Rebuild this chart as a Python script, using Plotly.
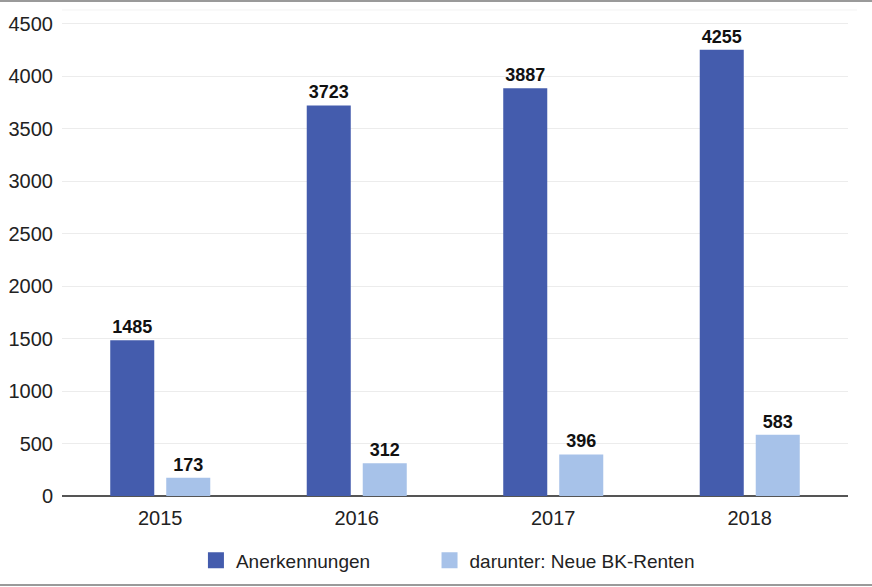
import plotly.graph_objects as go

years = ["2015", "2016", "2017", "2018"]
anerkennungen = [1485, 3723, 3887, 4255]
bk_renten = [173, 312, 396, 583]
series_names = ["Anerkennungen", "darunter: Neue BK-Renten"]
colors = ["#445CAD", "#A7C2E9"]
y_ticks = [0, 500, 1000, 1500, 2000, 2500, 3000, 3500, 4000, 4500]

FONT = "Liberation Sans"

fig = go.Figure()
for name, vals, col in zip(series_names, [anerkennungen, bk_renten], colors):
    fig.add_trace(go.Bar(
        x=years, y=vals, name=name, showlegend=False,
        marker=dict(color=col, line=dict(width=0)),
        text=[str(v) for v in vals], textposition="outside",
        textfont=dict(family=FONT, size=18, color="#111111", weight="bold"),
        cliponaxis=False,
    ))
# legend entries with larger square swatches, each in its own legend
for name, col, lg in zip(series_names, colors, ["legend", "legend2"]):
    fig.add_trace(go.Scatter(
        x=[None], y=[None], mode="markers", name=name, legend=lg,
        marker=dict(symbol="square", size=17, color=col),
    ))

legend_common = dict(orientation="h", xanchor="left", y=-0.1327, yanchor="middle",
                     font=dict(family=FONT, size=19, color="#222222"),
                     itemsizing="trace", bgcolor="rgba(0,0,0,0)")

fig.update_layout(
    width=872, height=587,
    margin=dict(l=62, r=24, t=10, b=91, autoexpand=False),
    paper_bgcolor="white", plot_bgcolor="white",
    barmode="group", bargap=0.43, bargroupgap=0.214,
    font=dict(family=FONT, size=20, color="#222222"),
    showlegend=True,
    legend=dict(x=0.1704, **legend_common),
    legend2=dict(x=0.4676, **legend_common),
    xaxis=dict(showgrid=False, ticks="outside", ticklen=4, tickcolor="rgba(0,0,0,0)",
               showline=False, tickfont=dict(size=20), automargin=False),
    yaxis=dict(range=[0, 4633], tickvals=y_ticks, showgrid=True, gridcolor="#ececec",
               gridwidth=1, zeroline=True, zerolinecolor="#555555", zerolinewidth=2,
               ticks="outside", ticklen=4, tickcolor="rgba(0,0,0,0)", tickfont=dict(size=20),
               automargin=False),
    shapes=[
        dict(type="line", xref="paper", yref="paper", x0=-62/786, x1=1+24/786,
             y0=1+9/486, y1=1+9/486, line=dict(color="#9a9a9a", width=2)),
        dict(type="line", xref="paper", yref="paper", x0=-62/786, x1=1+24/786,
             y0=-89/486, y1=-89/486, line=dict(color="#9a9a9a", width=2)),
        dict(type="line", xref="paper", yref="paper", x0=0, x1=1+9/786,
             y0=1, y1=1, line=dict(color="#f3f3f3", width=1)),
    ],
)

fig.write_html("out.html", config={"displayModeBar": False},
               post_script="document.body.style.margin='0';document.body.style.padding='0';")
